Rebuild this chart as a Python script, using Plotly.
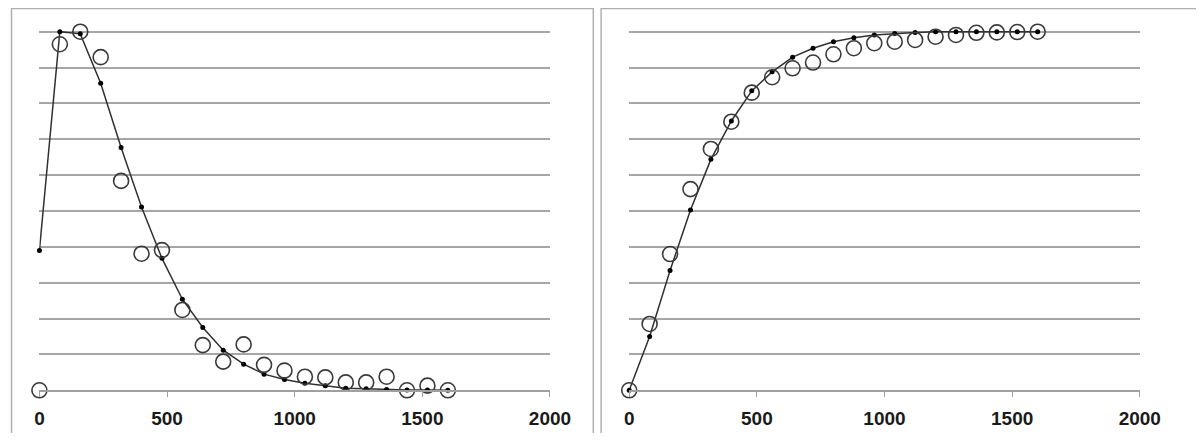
import plotly.graph_objects as go

x_vals = [0, 80, 160, 240, 320, 400, 480, 560, 640, 720, 800, 880, 960,
          1040, 1120, 1200, 1280, 1360, 1440, 1520, 1600]

left_fit = [3.9, 10.0, 9.94, 8.56, 6.77, 5.11, 3.68, 2.54, 1.75, 1.12, 0.73,
            0.45, 0.30, 0.195, 0.13, 0.06, 0.04, 0.02, 0.01, 0.005, 0.0]
left_obs = [0.0, 9.65, 10.0, 9.29, 5.84, 3.81, 3.91, 2.24, 1.26, 0.80, 1.28,
            0.71, 0.55, 0.38, 0.36, 0.22, 0.22, 0.38, 0.0, 0.13, 0.0]

right_fit = [0.0, 1.50, 3.34, 5.03, 6.44, 7.51, 8.35, 8.88, 9.29, 9.54, 9.72,
             9.83, 9.91, 9.95, 9.98, 10.0, 10.0, 10.0, 10.0, 10.0, 10.0]
right_obs = [0.0, 1.85, 3.80, 5.61, 6.73, 7.49, 8.30, 8.73, 8.98, 9.14, 9.37,
             9.54, 9.68, 9.72, 9.77, 9.86, 9.91, 9.97, 9.98, 9.99, 10.0]

x_ticks = [0, 500, 1000, 1500, 2000]

OFF = 8  # page body margin
W, H = 1204 - 2 * OFF, 441 - 2 * OFF
fig = go.Figure()

for i, (fit, obs) in enumerate([(left_fit, left_obs), (right_fit, right_obs)]):
    xa = "x" if i == 0 else "x2"
    ya = "y" if i == 0 else "y2"
    fig.add_trace(go.Scatter(
        x=x_vals, y=fit, xaxis=xa, yaxis=ya, mode="lines+markers",
        line=dict(color="#303030", width=1.5),
        marker=dict(color="#000000", size=5),
        cliponaxis=False, showlegend=False))
    fig.add_trace(go.Scatter(
        x=x_vals, y=obs, xaxis=xa, yaxis=ya, mode="markers",
        marker=dict(symbol="circle-open", color="#3a3a3a", size=15,
                    line=dict(width=1.6, color="#3a3a3a")),
        cliponaxis=False, showlegend=False))

ymax = 10.05
unit = (390.3 - 31.7) / 10.0
top_px = 390.3 - ymax * unit
ydom = [1 - (390.3 - OFF) / H, 1 - (top_px - OFF) / H]


def px(p):
    return (p - OFF) / W


xcommon = dict(range=[0, 2000], tickvals=x_ticks, showgrid=False, zeroline=False,
               showline=True, linecolor="#a0a0a0", linewidth=1.5,
               ticks="outside", ticklen=5, tickcolor="#a0a0a0", tickwidth=1.2,
               tickfont=dict(family="Liberation Sans", size=19, color="#1a1a1a",
                             weight="bold"),
               ticklabelstandoff=5)
ycommon = dict(range=[0, ymax], tickvals=list(range(0, 11)), showticklabels=False,
               showgrid=True, gridcolor="#a6a6a6", gridwidth=1.5, zeroline=False,
               showline=False, ticks="", domain=ydom)

fig.update_layout(
    width=W, height=H,
    margin=dict(l=0, r=0, t=0, b=0),
    paper_bgcolor="white", plot_bgcolor="white",
    xaxis=dict(domain=[px(35), px(557)], anchor="y", **xcommon),
    yaxis=dict(anchor="x", **ycommon),
    xaxis2=dict(domain=[px(638), px(1160)], anchor="y2", **xcommon),
    yaxis2=dict(anchor="x2", **ycommon),
)

# panel borders
border = dict(color="#b0b0b0", width=1.5)
fig.add_shape(type="rect", xref="paper", yref="paper",
              x0=px(6.5), x1=px(601.3), y0=-0.05, y1=1 - (8.5 - OFF) / H, line=border)
fig.add_shape(type="rect", xref="paper", yref="paper",
              x0=px(609.3), x1=1.05, y0=-0.05, y1=1 - (8.5 - OFF) / H, line=border)

fig.write_html("out.html")
